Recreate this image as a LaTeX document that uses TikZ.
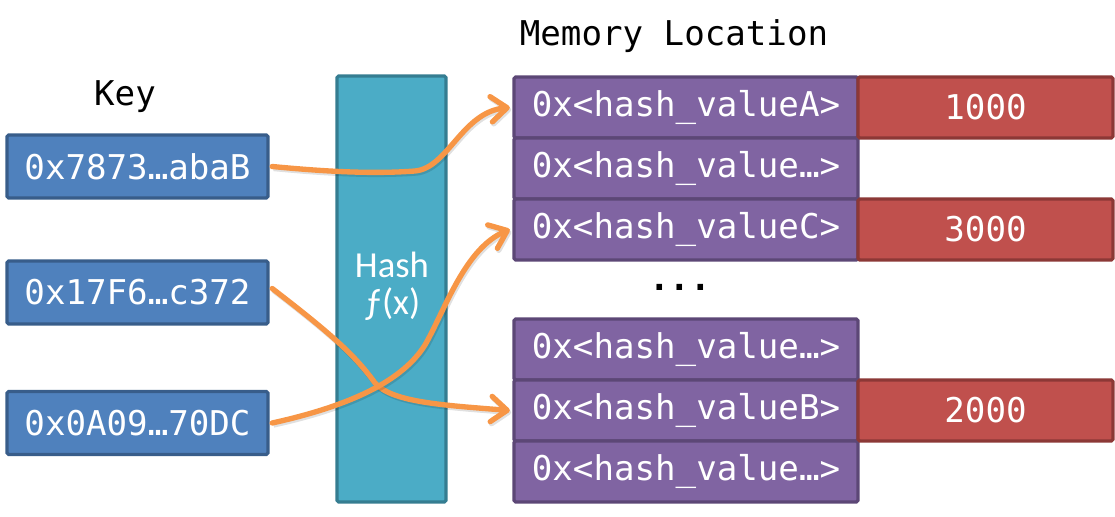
\documentclass[tikz,border=0pt]{standalone}
\usepackage{fontspec}
\setmainfont{Carlito}
\newfontfamily\monof{DejaVu Sans Mono}
\usetikzlibrary{arrows.meta}
\definecolor{keyfill}{HTML}{4F81BD}
\definecolor{keyline}{HTML}{385D8A}
\definecolor{hashfill}{HTML}{4BACC6}
\definecolor{hashline}{HTML}{357D91}
\definecolor{memfill}{HTML}{8064A2}
\definecolor{memline}{HTML}{5C4776}
\definecolor{valfill}{HTML}{C0504D}
\definecolor{valline}{HTML}{8C3836}
\definecolor{arrowc}{HTML}{F79646}
\tikzset{
  cell/.style={draw, line width=2.3pt, rounded corners=1.2pt, inner sep=0pt, text=white,
    font=\monof\fontsize{25.6}{30}\selectfont},
  keybox/.style={cell, fill=keyfill, draw=keyline, minimum width=195.75pt, minimum height=47.25pt},
  membox/.style={cell, fill=memfill, draw=memline, minimum width=258pt, minimum height=45.75pt},
  valbox/.style={cell, fill=valfill, draw=valline, minimum width=191.25pt, minimum height=45.75pt},
  hashbox/.style={draw=hashline, fill=hashfill, line width=2.3pt, rounded corners=1.2pt,
    minimum width=81.75pt, minimum height=319.5pt, inner sep=0pt},
  title/.style={font=\monof\fontsize{25.6}{30}\selectfont, text=black, inner sep=0pt},
  link/.style={draw=arrowc, line width=4pt, line cap=round,
    -{Straight Barb[length=12pt, width=19pt, line width=4pt, round]},
    preaction={draw=black, opacity=0.12, line width=4pt, transform canvas={shift={(1pt,-1.5pt)}}}}
}
\begin{document}
\begin{tikzpicture}[x=0.75pt,y=-0.75pt]
\useasboundingbox (0,0) rectangle (1115,517);
% titles
\node[title] (tkey) at (125,97) {Key};
\node[title] (tmem) at (674,36) {Memory Location};
% hash box
\node[hashbox] (hash) at (391.5,289) {};
\node[text=white, font=\fontsize{27.5}{28}\selectfont, align=center, inner sep=0pt] (hlabel) at (392,286) {Hash\\ƒ(x)};
% keys
\node[keybox] (k1) at (137.5,166.5) {0x7873…abaB};
\node[keybox] (k2) at (137.5,292.5) {0x17F6…c372};
\node[keybox] (k3) at (137.5,423) {0x0A09…70DC};
% memory rows
\node[membox] (r1) at (686,107.5) {0x<hash\_valueA>};
\node[membox] (r2) at (686,168.5) {0x<hash\_value…>};
\node[membox] (r3) at (686,229.5) {0x<hash\_valueC>};
\node[membox] (r4) at (686,349.5) {0x<hash\_value…>};
\node[membox] (r5) at (686,410.5) {0x<hash\_valueB>};
\node[membox] (r6) at (686,471.5) {0x<hash\_value…>};
\node[title, font=\monof\bfseries\fontsize{25.6}{30}\selectfont] (dots) at (680,287) {...};
% values
\node[valbox] (v1) at (985.5,107.5) {1000};
\node[valbox] (v3) at (985.5,229.5) {3000};
\node[valbox] (v5) at (985.5,410.5) {2000};
% connectors
\coordinate (a1) at (415,171);
\coordinate (a2) at (375,383);
\coordinate (a3) at (425,345);
\draw[link] ([xshift=2pt]k1.east) .. controls (330,172) and (375,174) .. (a1)
  .. controls (448,168) and (462,112) .. ([xshift=-2pt]r1.west);
\draw[link] ([xshift=2pt,yshift=3pt]k2.east) .. controls (330,333) and (355,355) .. (a2)
  .. controls (392,402) and (440,405) .. ([xshift=-2pt]r5.west);
\draw[link] ([xshift=2pt]k3.east) .. controls (340,408) and (400,385) .. (a3)
  .. controls (445,310) and (465,248) .. ([xshift=-2pt]r3.west);
\end{tikzpicture}
\end{document}
